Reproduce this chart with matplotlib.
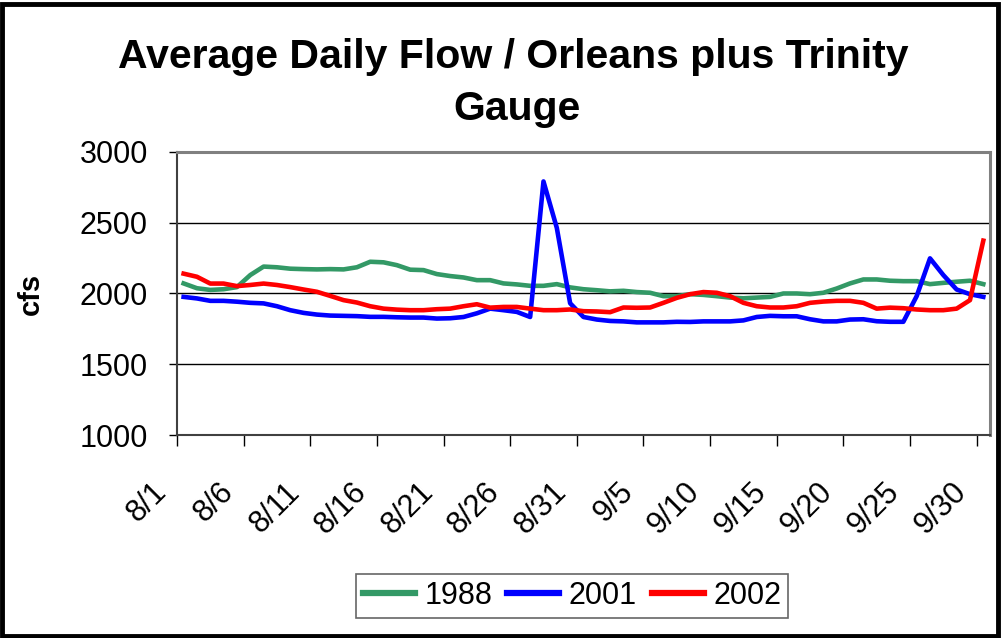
import matplotlib
matplotlib.use("Agg")
from matplotlib import pyplot as plt
from matplotlib.patches import Rectangle
import matplotlib.transforms as mtransforms

days = [f"8/{d}" for d in range(1, 32)] + [f"9/{d}" for d in range(1, 31)]

flow_1988 = [2071, 2037, 2025, 2030, 2045, 2130, 2190, 2185, 2175, 2172,
             2170, 2172, 2170, 2185, 2224, 2220, 2200, 2168, 2165, 2137,
             2123, 2113, 2094, 2094, 2071, 2064, 2054, 2054, 2066, 2043,
             2030, 2023, 2015, 2019, 2010, 2005, 1981, 1981, 1995, 1990,
             1981, 1971, 1966, 1971, 1976, 2000, 2000, 1995, 2005, 2035,
             2071, 2099, 2099, 2090, 2087, 2087, 2066, 2075, 2083, 2090, 2066]
flow_2001 = [1976, 1965, 1948, 1948, 1942, 1934, 1930, 1910, 1882, 1863,
             1851, 1844, 1842, 1840, 1835, 1835, 1832, 1830, 1830, 1823,
             1825, 1834, 1860, 1893, 1882, 1870, 1834, 2791, 2463, 1931,
             1834, 1816, 1806, 1803, 1796, 1796, 1796, 1800, 1799, 1803,
             1803, 1803, 1810, 1834, 1842, 1839, 1839, 1818, 1803, 1803,
             1816, 1818, 1804, 1800, 1800, 1981, 2248, 2130, 2028, 1995, 1976]
flow_2002 = [2140, 2118, 2070, 2070, 2052, 2060, 2070, 2060, 2045, 2028,
             2012, 1983, 1953, 1936, 1910, 1893, 1886, 1882, 1882, 1889,
             1893, 1910, 1924, 1900, 1905, 1905, 1893, 1882, 1882, 1887,
             1875, 1873, 1868, 1901, 1899, 1901, 1934, 1969, 1995, 2010,
             2005, 1981, 1934, 1910, 1901, 1901, 1910, 1934, 1943, 1948,
             1948, 1934, 1893, 1900, 1896, 1887, 1882, 1882, 1893, 1953, 2373]

plt.rcParams['font.family'] = ['Liberation Sans', 'DejaVu Sans']

fig = plt.figure(figsize=(10.02, 6.38), dpi=100)
ax = fig.add_axes([0.1766, 0.318, 0.8114, 0.444])

x = list(range(len(days)))
ax.plot(x, flow_1988, color='#339966', lw=3.3, label='1988', solid_joinstyle='round')
ax.plot(x, flow_2001, color='#0000FF', lw=3.3, label='2001', solid_joinstyle='round')
ax.plot(x, flow_2002, color='#FF0000', lw=3.3, label='2002', solid_joinstyle='round')

ax.set_xlim(-0.5, len(days) - 0.5)
ax.set_ylim(1000, 3000)
ax.set_yticks([1000, 1500, 2000, 2500, 3000])
ax.tick_params(axis='y', labelsize=22, length=6, width=1, pad=15, direction='out')
ax.yaxis.grid(True, color='black', lw=1)
ax.set_axisbelow(True)

# major ticks on category boundaries, labels on category centers
ax.set_xticks([i - 0.5 for i in range(0, len(days), 5)])
ax.set_xticklabels([])
ax.tick_params(axis='x', which='major', length=8, width=1, direction='out')
ax.set_xticks(list(range(0, len(days), 5)), minor=True)
ax.set_xticklabels(days[::5], minor=True, rotation=45, ha='right', va='top', fontsize=22)
ax.tick_params(axis='x', which='minor', length=0, pad=30)
offset = mtransforms.ScaledTranslation(-11 / 100, 0, fig.dpi_scale_trans)
for lbl in ax.get_xticklabels(minor=True):
    lbl.set_transform(lbl.get_transform() + offset)

for side in ['top', 'right']:
    ax.spines[side].set_color('#808080')
    ax.spines[side].set_linewidth(2.2)
for side in ['left', 'bottom']:
    ax.spines[side].set_color('#404040')
    ax.spines[side].set_linewidth(1.5)

ax.set_ylabel('cfs', fontsize=21, fontweight='bold', labelpad=25)

fig.text(0.512, 1 - 68 / 638, 'Average Daily Flow / Orleans plus Trinity',
         ha='center', va='baseline', fontsize=29.5, fontweight='bold')
fig.text(0.516, 1 - 120 / 638, 'Gauge',
         ha='center', va='baseline', fontsize=29.5, fontweight='bold')

leg = fig.legend(loc='center', bbox_to_anchor=(0.571, 0.066), ncol=3, fontsize=22,
                 frameon=True, fancybox=False, handlelength=1.7, handletextpad=0.3,
                 columnspacing=0.5, borderpad=0.22, edgecolor='#404040')
leg.get_frame().set_linewidth(1.2)
for line in leg.get_lines():
    line.set_linewidth(4.5)

fig.patches.append(Rectangle((0.002, 0.003), 0.994, 0.991, transform=fig.transFigure,
                             fill=False, edgecolor='black', lw=3.5))

fig.savefig('out.png', dpi=100)
